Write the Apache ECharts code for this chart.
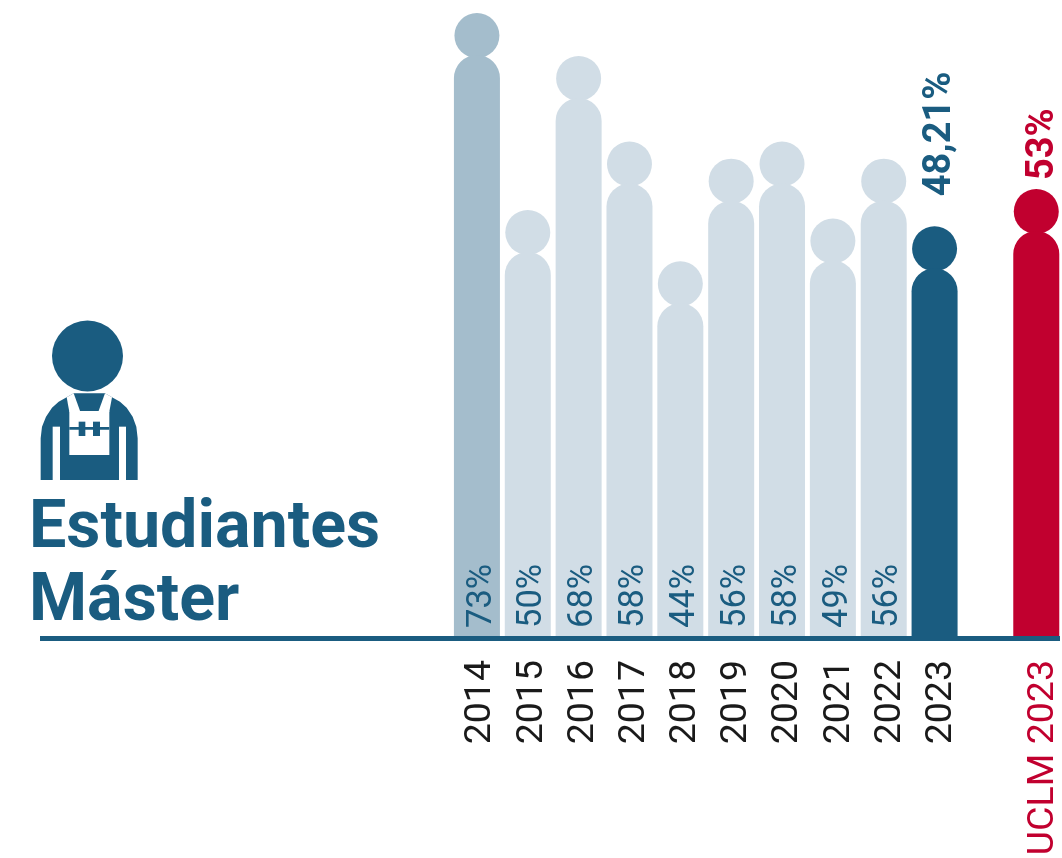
<!DOCTYPE html>
<html><head><meta charset="utf-8">
<style>html,body{margin:0;padding:0;background:#fff}#c{width:1062px;height:858px}</style>
<script src="https://cdn.jsdelivr.net/npm/echarts@6/dist/echarts.min.js"></script>
</head><body><div id="c"></div>
<script>
const categories = ['2014','2015','2016','2017','2018','2019','2020','2021','2022','2023','','UCLM 2023'];
const values = [73,50,68,58,44,56,58,49,56,48.1,null,52.45];
const valueLabels = ['73%','50%','68%','58%','44%','56%','58%','49%','56%','48,21%','','53%'];
const colorDark = '#1a5c80', colorRed = '#c1002f';
const barColors = ['#a4bdcc','#d1dde6','#d1dde6','#d1dde6','#d1dde6','#d1dde6','#d1dde6','#d1dde6','#d1dde6',colorDark,null,colorRed];
const titleLines = ['Estudiantes','Máster'];
const FONT = 'Roboto, sans-serif';

function renderItem(params, api) {
  const i = api.value(0), v = api.value(1);
  if (v == null || isNaN(v)) return null;
  const top = api.coord([i, v]), base = api.coord([i, 0]);
  const cx = top[0], bw = 46, r = 22.5, color = barColors[i];
  const isOuter = i >= 9;
  const kids = [
    {type:'circle', shape:{cx:cx, cy:top[1]+r, r:r}, style:{fill:color}},
    {type:'rect', shape:{x:cx-bw/2, y:top[1]+42, width:bw, height:base[1]-top[1]-42, r:[23,23,0,0]}, style:{fill:color}}
  ];
  if (isOuter) {
    const gap = i === 9 ? 30 : 9;
    kids.push({type:'text', x:cx+(i === 9 ? 5.5 : 7), y:top[1]-gap, rotation:Math.PI/2,
      style:{text:valueLabels[i], fill:color, font:'700 38px '+FONT, align:'left', verticalAlign:'middle'}});
  } else {
    kids.push({type:'text', x:cx+5, y:base[1]-10, rotation:Math.PI/2,
      style:{text:valueLabels[i], fill:colorDark, font:'400 34.5px '+FONT, align:'left', verticalAlign:'middle'}});
  }
  return {type:'group', children:kids};
}

const chart = echarts.init(document.getElementById('c'), null, {renderer:'canvas'});
chart.setOption({
  animation:false,
  backgroundColor:'#fff',
  grid:[
    {left:451.5, top:4.56, width:610.2, height:633.44, outerBoundsMode:'none'},
    {left:455.4, top:4.56, width:614.2, height:633.44, outerBoundsMode:'none'}
  ],
  xAxis:[
    {type:'category', data:categories, gridIndex:0, axisLine:{show:false}, axisTick:{show:false}, axisLabel:{show:false}},
    {type:'category', data:categories, gridIndex:1, boundaryGap:true,
      axisLine:{show:false}, axisTick:{show:false},
      axisLabel:{interval:0, rotate:90, margin:22, fontFamily:'Roboto', fontWeight:400, fontSize:37.5,
        color:(val)=> val.indexOf('UCLM')===0 ? colorRed : '#1a1a1a'}}
  ],
  yAxis:[
    {type:'value', gridIndex:0, min:0, max:74, show:false, splitLine:{show:false}},
    {type:'value', gridIndex:1, min:0, max:74, show:false, splitLine:{show:false}}
  ],
  series:[{type:'custom', renderItem:renderItem, clip:false, xAxisIndex:0, yAxisIndex:0,
    encode:{x:0,y:1},
    data:values.map((v,i)=>[i, v==null?'-':v])}],
  graphic:[
    {type:'rect', shape:{x:40,y:636,width:1020,height:5}, style:{fill:colorDark}, z:10},
    {type:'text', x:29, y:563, style:{text:titleLines[0], fill:colorDark, font:'700 66.4px '+FONT, verticalAlign:'bottom'}},
    {type:'text', x:29, y:636, style:{text:titleLines[1], fill:colorDark, font:'700 66.4px '+FONT, verticalAlign:'bottom'}},
    {type:'circle', shape:{cx:87.5,cy:356,r:35.5}, style:{fill:colorDark}},
    {type:'group', x:36, y:385, scaleX:1/3, scaleY:1/3, children:[
      {type:'polygon', shape:{points:[[14,285],[14,160],[18,125],[30,95],[48,68],[68,50],[92,37],[113,25],[207,25],[228,37],[252,50],[272,68],[290,95],[301,125],[305,160],[305,285]]}, style:{fill:colorDark}},
      {type:'polygon', shape:{points:[[92,37],[113,25],[133,80],[100,80]]}, style:{fill:'#fff'}},
      {type:'polygon', shape:{points:[[228,37],[207,25],[187,80],[220,80]]}, style:{fill:'#fff'}},
      {type:'rect', shape:{x:100,y:78,width:120,height:132}, style:{fill:'#fff'}},
      {type:'rect', shape:{x:128,y:110,width:20,height:43}, style:{fill:colorDark}},
      {type:'rect', shape:{x:171,y:110,width:21,height:43}, style:{fill:colorDark}},
      {type:'rect', shape:{x:100,y:126,width:120,height:8}, style:{fill:colorDark}},
      {type:'rect', shape:{x:50,y:125,width:22,height:160}, style:{fill:'#fff'}},
      {type:'rect', shape:{x:249,y:125,width:21,height:160}, style:{fill:'#fff'}}
    ]}
  ]
});
</script></body></html>
